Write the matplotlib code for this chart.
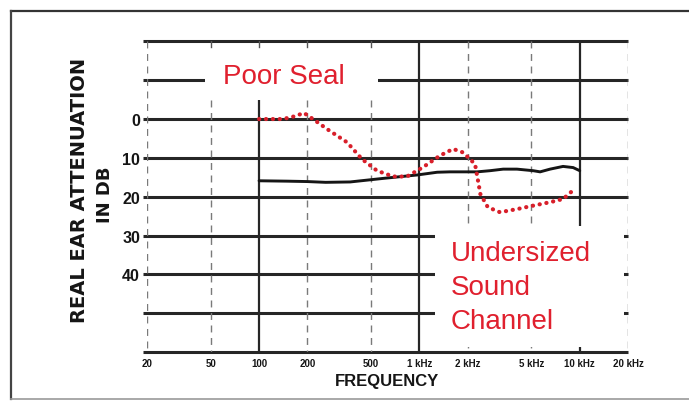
import matplotlib
matplotlib.use("Agg")
import matplotlib.pyplot as plt
from matplotlib.patches import Rectangle
from matplotlib.lines import Line2D

# ---- data ----
x_ticks = [20, 50, 100, 200, 500, 1000, 2000, 5000, 10000, 20000]
x_tick_labels = ["20", "50", "100", "200", "500", "1 kHz", "2 kHz", "5 kHz", "10 kHz", "20 kHz"]
y_ticks = [0, 10, 20, 30, 40]
y_tick_labels = ["0", "10", "20", "30", "40"]
h_lines = [-20, -10, 0, 10, 20, 30, 40, 50, 60]

solid_freq = [100, 150, 200, 260, 370, 590, 970, 1290, 1550, 2290, 2760, 3330,
              4060, 5120, 5660, 6530, 7870, 9100, 10000]
solid_db = [15.9, 16.0, 16.1, 16.3, 16.2, 15.3, 14.4, 13.7, 13.6, 13.6, 13.3, 12.9,
            12.9, 13.3, 13.6, 12.9, 12.2, 12.5, 13.3]

red_freq = [100, 141, 170, 190, 217, 266, 354, 438, 544, 686, 837, 1054, 1346,
            1622, 1871, 2223, 2330, 2400, 2670, 3180, 4060, 5130, 6560, 7870, 9000]
red_db = [0, 0, -0.8, -1.6, 0, 2.6, 6.0, 10.3, 13.3, 14.8, 14.8, 12.4, 9.4,
          7.7, 8.6, 11.6, 16.3, 19.3, 22.7, 24.0, 23.2, 22.3, 21.4, 20.6, 18.5]

label_poor = "Poor Seal"
label_under = "Undersized\nSound\nChannel"

# ---- figure ----
W, H = 689, 402
fig = plt.figure(figsize=(W / 100, H / 100), dpi=100)
fig.patch.set_facecolor("white")

def fx(px):
    return px / W

def fy(py):
    return 1 - py / H

ax = fig.add_axes([fx(147), fy(353), fx(628) - fx(147), fy(42.4) - fy(353)])
ax.set_xscale("log")
ax.set_xlim(x_ticks[0], x_ticks[-1])
ax.set_ylim(h_lines[-1], h_lines[0])
for s in ax.spines.values():
    s.set_visible(False)
ax.set_facecolor("none")

line_col = "#262626"
# horizontal grid lines
for v in h_lines:
    ax.axhline(v, xmin=-0.008, xmax=1.0, color=line_col, lw=2.2, zorder=1, clip_on=False,
               solid_capstyle="butt")

# vertical lines
solid_v = {100: (-5, 60), 1000: (-20, 60), 10000: (-20, 60)}
dashed_v = {20: (-20, 60), 50: (-5, 60), 200: (-5, 60), 500: (-5, 60),
            2000: (-20, 60), 5000: (-20, 60), 20000: (-20, 60)}
for f, (a, b) in solid_v.items():
    ax.plot([f, f], [a, b], color=line_col, lw=1.6, zorder=1, solid_capstyle="butt")
for f, (a, b) in dashed_v.items():
    ax.plot([f, f], [a, b], color="#7a7a7a", lw=1.0, zorder=1, linestyle=(0, (5, 4)))

# small tick marks along top line
for f in [50, 100, 200, 500]:
    ax.plot([f, f], [-20, -18.5], color="#555555", lw=1.0, zorder=1)

# curves
ax.plot(solid_freq, solid_db, color="#151515", lw=2.1, zorder=3, solid_capstyle="round")
ax.plot(red_freq, red_db, color="#d81f2a", lw=3.0, zorder=4,
        linestyle=(0, (0.05, 1.6)), dash_capstyle="round")

# white boxes covering grid
ax.add_patch(Rectangle((0.1206, 0.83), 0.3596, 0.11, transform=ax.transAxes,
                       facecolor="white", edgecolor="none", zorder=5))
ax.add_patch(Rectangle((0.599, 0.016), 0.392, 0.39, transform=ax.transAxes,
                       facecolor="white", edgecolor="none", zorder=5))

red_txt = "#e0202e"
fig.text(fx(223), fy(77), label_poor, color=red_txt, fontsize=20,
         family="Liberation Sans", ha="left", va="center", zorder=6)
fig.text(fx(451), fy(288), label_under, color=red_txt, fontsize=20,
         family="Liberation Sans", ha="left", va="center", linespacing=1.4, zorder=6)

# ticks
ax.set_xticks(x_ticks)
ax.set_xticklabels(x_tick_labels, fontsize=7, fontweight="bold", family="Liberation Sans")
ax.xaxis.set_minor_locator(matplotlib.ticker.NullLocator())
ax.set_yticks(y_ticks)
ax.set_yticklabels(y_tick_labels, fontsize=11.5, fontweight="bold", family="Liberation Sans")
ax.tick_params(axis="both", length=0, colors="#151515")
ax.tick_params(axis="x", pad=4)
ax.tick_params(axis="y", pad=5)

ax.set_xlabel("FREQUENCY", fontsize=12, fontweight="bold", family="Liberation Sans",
              color="#151515", labelpad=4)

fig.text(fx(80), fy(190), "REAL EAR ATTENUATION", rotation=90, fontsize=14,
         fontweight="bold", family="DejaVu Sans", ha="center", va="center", color="#151515")
fig.text(fx(105), fy(195), "IN DB", rotation=90, fontsize=13,
         fontweight="bold", family="DejaVu Sans", ha="center", va="center", color="#151515")

# outer frame
fig.add_artist(Line2D([fx(11), 1.0], [fy(12), fy(12)], transform=fig.transFigure,
                      color="#333333", lw=1.6))
fig.add_artist(Line2D([fx(11), fx(11)], [fy(12), fy(400)], transform=fig.transFigure,
                      color="#444444", lw=1.6))
fig.add_artist(Line2D([fx(11), 1.0], [fy(400), fy(400)], transform=fig.transFigure,
                      color="#999999", lw=1.2))

fig.savefig("out.png", dpi=100, facecolor="white")
